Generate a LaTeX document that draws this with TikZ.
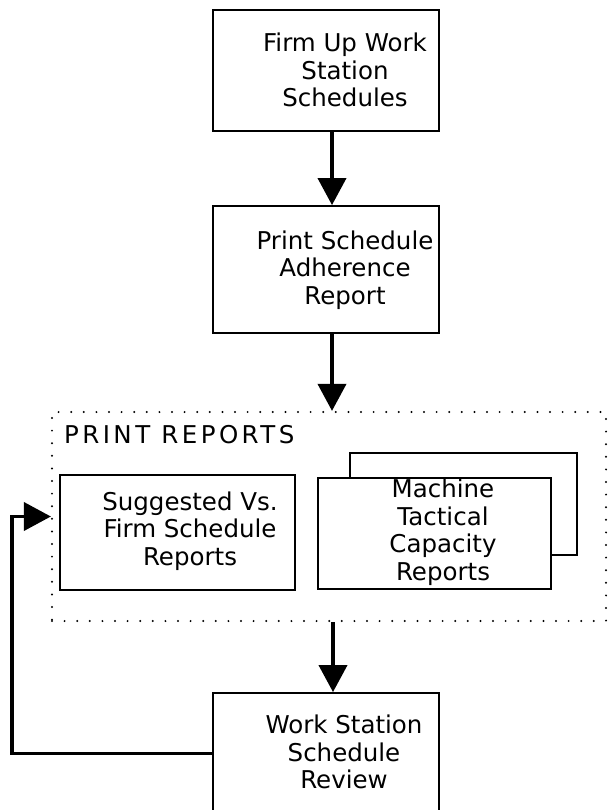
\documentclass[tikz,border=0pt]{standalone}
\usepackage{fontspec}
\setmainfont{DejaVu Sans}
\usepackage{tikz}
\usetikzlibrary{arrows.meta}

\begin{document}
\begin{tikzpicture}[x=1pt,y=-1pt,
    box/.style={draw,line width=1.8pt,fill=white,inner sep=0pt},
    txt/.style={align=center,inner sep=0pt,font=\fontsize{24.5}{27.5}\selectfont},
    flow/.style={line width=3.8pt,-{Triangle[length=27pt,width=28pt]}}]
  \useasboundingbox (0,0) rectangle (609,810);
  \clip (0,0) rectangle (609,810);

  % main column
  \node[box,minimum width=226pt,minimum height=121pt] (firm) at (326,70.5) {};
  \node[txt] (firmtxt) at (345,70) {Firm Up Work\\Station\\Schedules};
  \node[box,minimum width=226pt,minimum height=127pt] (adh) at (326,269.5) {};
  \node[txt] (adhtxt) at (345,270) {Print Schedule\\Adherence\\Report};

  % print reports group
  \node[draw,line width=2.2pt,line cap=round,dash pattern=on 0pt off 12.6pt,
        minimum width=554pt,minimum height=209pt,inner sep=0pt] (grp) at (329,516.5) {};
  \node[txt,anchor=west] (grptxt) at (64,435)
    {\addfontfeature{LetterSpace=14}PRINT REPORTS};
  \node[box,minimum width=235pt,minimum height=115pt] (sugg) at (177.5,532.5) {};
  \node[txt] (suggtxt) at (190,531) {Suggested Vs.\\Firm Schedule\\Reports};
  \node[box,minimum width=227pt,minimum height=102pt] (machback) at (463.5,504) {};
  \node[box,minimum width=233pt,minimum height=111pt] (mach) at (434.5,533.5) {};
  \node[txt] (machtxt) at (443,532) {Machine\\Tactical\\Capacity\\Reports};

  % review
  \node[box,minimum width=226pt,minimum height=121pt] (rev) at (326,753.5) {};
  \node[txt] (revtxt) at (344,752) {Work Station\\Schedule\\Review};

  \draw[flow] ([xshift=6pt]firm.south) -- ([xshift=6pt]adh.north);
  \draw[flow] ([xshift=6pt]adh.south) -- ([xshift=3pt]grp.north);
  \draw[flow] ([xshift=4pt]grp.south) -- ([xshift=7pt]rev.north);
  \draw[flow] (rev.west) -- ++(-200,0) |- (grp.west);
\end{tikzpicture}
\end{document}
